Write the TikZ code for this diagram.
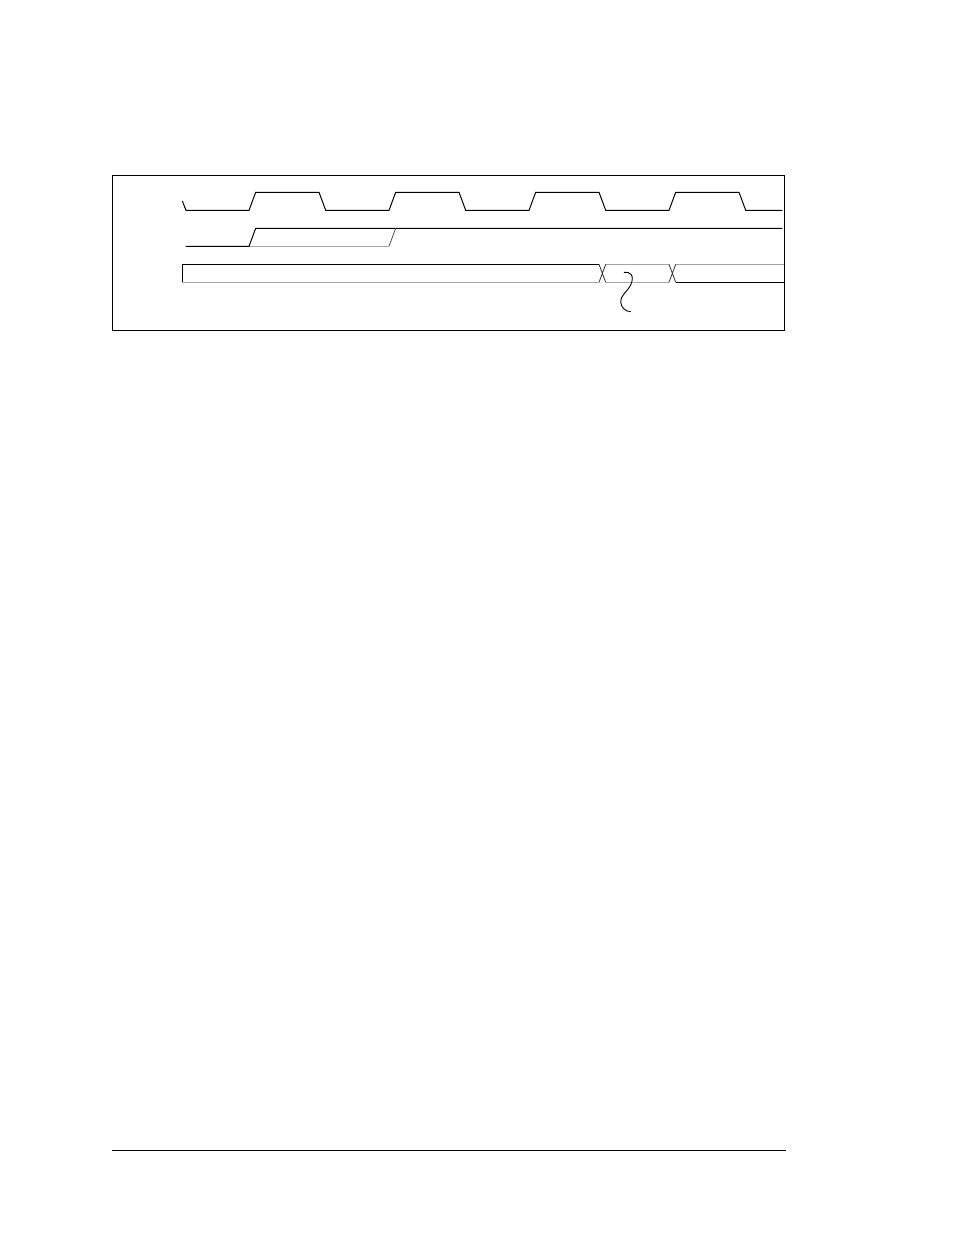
\documentclass[tikz,border=0pt]{standalone}
\usepackage{tikz}
\definecolor{lgray}{RGB}{165,165,165}
\tikzset{
  sig/.style={line width=1pt, black, line join=miter},
  gsig/.style={line width=1.2pt, lgray},
}
\begin{document}
\begin{tikzpicture}[x=1pt,y=-1pt]
\useasboundingbox (0,0) rectangle (954,1235);
% frame
\draw[line width=1pt] (112.3,175.3) rectangle (784.3,330.3);
% clock
\draw[sig] (182.3,201) -- (186,210.3) -- (249,210.3) -- (255.7,192.3) -- (319,192.3) -- (325.7,210.3)
  -- (389,210.3) -- (395.7,192.3) -- (459,192.3) -- (465.7,210.3)
  -- (529,210.3) -- (535.7,192.3) -- (599,192.3) -- (605.7,210.3)
  -- (669,210.3) -- (675.7,192.3) -- (739,192.3) -- (745.7,210.3) -- (782.3,210.3);
% second signal
\draw[gsig] (249,246.3) -- (389,246.3);
\draw[sig] (185.7,246.3) -- (249,246.3) -- (255.7,228.3) -- (782.3,228.3);
\draw[line width=0.8pt, black!70] (389,246.3) -- (395.7,228.3);
% bus
\draw[gsig] (182.3,282.3) -- (599,282.3);
\draw[gsig] (605.7,282.3) -- (669,282.3);
\draw[gsig] (605.7,264.3) -- (669,264.3);
\draw[gsig] (675.7,264.3) -- (784.3,264.3);
\draw[sig] (182.3,282.3) -- (182.3,264.3) -- (599,264.3);
\draw[sig] (675.7,282.3) -- (784.3,282.3);
\draw[line width=0.8pt, black!80] (599,264.3) -- (605.7,282.3) (599,282.3) -- (605.7,264.3);
\draw[line width=0.8pt, black!80] (669,264.3) -- (675.7,282.3) (669,282.3) -- (675.7,264.3);
% squiggle
\draw[line width=0.9pt] (624,272.3) .. controls (630,271.5) and (635,275) .. (630.7,285)
  .. controls (627,292) and (620,296) .. (620.7,302) .. controls (621,308) and (626,311.5) .. (630.7,311.7);
% footer rule
\draw[line width=1.1pt] (112,1150.3) -- (785.7,1150.3);
\end{tikzpicture}
\end{document}
